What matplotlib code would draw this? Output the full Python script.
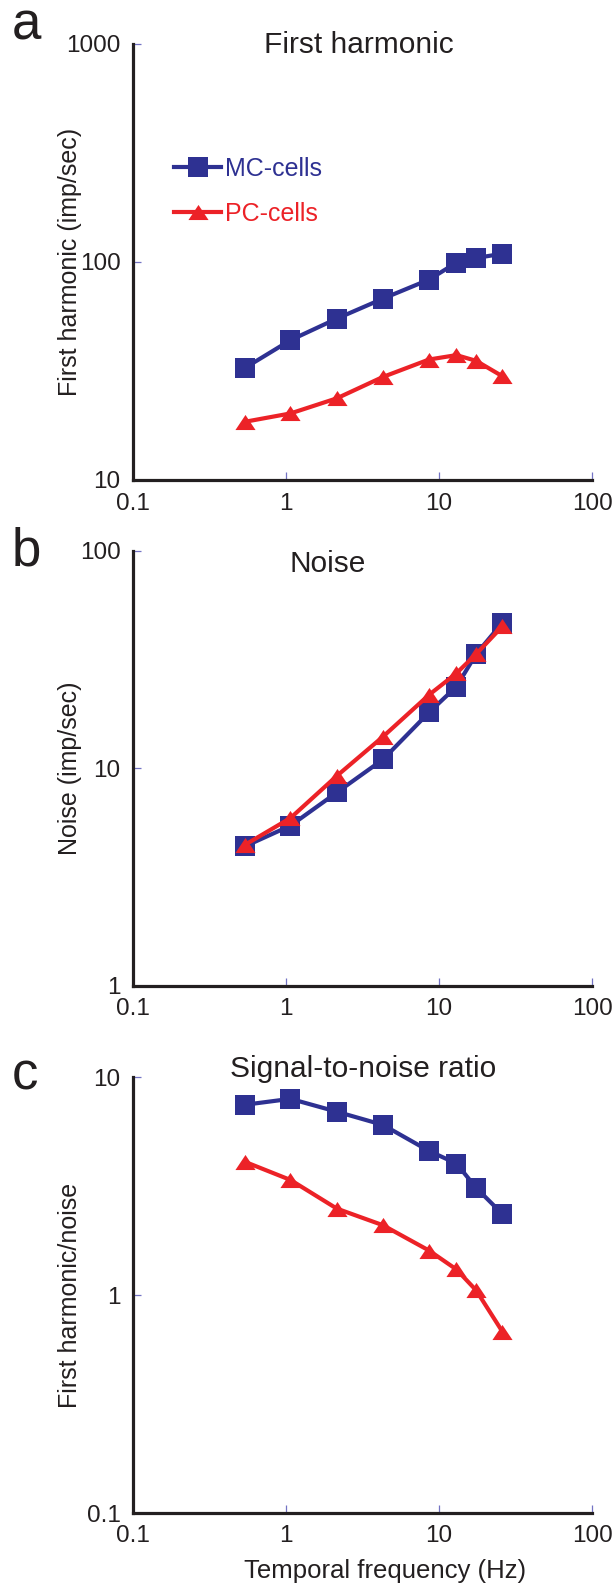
import matplotlib
matplotlib.use("Agg")
import matplotlib.pyplot as plt
from matplotlib.ticker import FixedLocator, FixedFormatter, NullLocator

plt.rcParams['font.family'] = ['Liberation Sans', 'DejaVu Sans']

# ---------------- data ----------------
freq = [0.54, 1.07, 2.15, 4.3, 8.6, 13.0, 17.5, 26.0]

mc_harmonic = [32.7, 43.8, 55.0, 67.9, 83.0, 99.3, 104.3, 109.2]
pc_harmonic = [18.5, 20.2, 23.7, 29.7, 35.7, 37.4, 35.2, 29.9]

mc_noise = [4.39, 5.46, 7.76, 11.0, 18.1, 23.8, 33.6, 46.9]
pc_noise = [4.46, 5.92, 9.25, 14.0, 21.8, 27.4, 33.6, 45.1]

mc_snr = [7.46, 7.94, 6.93, 6.03, 4.58, 4.01, 3.10, 2.35]
pc_snr = [4.08, 3.37, 2.49, 2.09, 1.60, 1.31, 1.05, 0.678]

series_labels = ["MC-cells", "PC-cells"]
panel_letters = ["a", "b", "c"]
panel_titles = ["First harmonic", "Noise", "Signal-to-noise ratio"]
y_labels = ["First harmonic (imp/sec)", "Noise (imp/sec)", "First harmonic/noise"]
x_label = "Temporal frequency (Hz)"

x_ticks = [0.1, 1, 10, 100]
x_ticklabels = ["0.1", "1", "10", "100"]
y_ticks = [[10, 100, 1000], [1, 10, 100], [0.1, 1, 10]]
y_ticklabels = [["10", "100", "1000"], ["1", "10", "100"], ["0.1", "1", "10"]]

# ---------------- style ----------------
BLUE = "#2e3192"
RED = "#ec2227"
BLACK = "#231f20"
TICK = "#7373c4"

W, H = 613, 1585
fig = plt.figure(figsize=(W / 100, H / 100), dpi=100)

left_px, right_px = 133, 592
panels_px = [(44, 480), (551, 986), (1077, 1513)]

tri = [(-1, -0.75), (1, -0.75), (0, 0.75), (-1, -0.75)]

title_pos = [(0.492, 0.979), (0.425, 0.952), (0.502, 1.0)]
letter_base = [40, 565, 1089]

series_sets = [(mc_harmonic, pc_harmonic), (mc_noise, pc_noise), (mc_snr, pc_snr)]

for i, (top, bot) in enumerate(panels_px):
    ax = fig.add_axes([left_px / W, 1 - bot / H, (right_px - left_px) / W, (bot - top) / H])
    ax.set_xscale("log")
    ax.set_yscale("log")
    mc, pc = series_sets[i]
    l1, = ax.plot(freq, mc, color=BLUE, lw=3.0, marker="s", markersize=14,
                  markeredgewidth=0, label=series_labels[0], clip_on=False)
    l2, = ax.plot(freq, pc, color=RED, lw=3.0, marker=tri, markersize=14.5,
                  markeredgewidth=0, label=series_labels[1], clip_on=False)
    ax.set_xlim(x_ticks[0], x_ticks[-1])
    ax.set_ylim(y_ticks[i][0], y_ticks[i][-1])
    for s in ("top", "right"):
        ax.spines[s].set_visible(False)
    for s in ("left", "bottom"):
        ax.spines[s].set_linewidth(2.3)
        ax.spines[s].set_color(BLACK)
    ax.xaxis.set_major_locator(FixedLocator(x_ticks))
    ax.xaxis.set_major_formatter(FixedFormatter(x_ticklabels))
    ax.yaxis.set_major_locator(FixedLocator(y_ticks[i]))
    ax.yaxis.set_major_formatter(FixedFormatter(y_ticklabels[i]))
    ax.xaxis.set_minor_locator(NullLocator())
    ax.yaxis.set_minor_locator(NullLocator())
    ax.tick_params(which="major", direction="in", length=6, width=0.9,
                   color=TICK, labelcolor=BLACK, labelsize=17.5)
    ax.tick_params(axis="x", pad=9)
    ax.tick_params(axis="y", pad=9)

    ax.set_ylabel(y_labels[i], fontsize=18, color=BLACK)
    ax.yaxis.label.set_va("center")
    ax.yaxis.set_label_coords(-0.138, 0.5)

    tx, ty = title_pos[i]
    ax.text(tx, ty, panel_titles[i], transform=ax.transAxes, ha="center",
            va="baseline", fontsize=21.5, color=BLACK)

    fig.text(12 / W, 1 - letter_base[i] / H, panel_letters[i], ha="left",
             va="baseline", fontsize=38, color=BLACK)

    if i == 0:
        ax.legend(handles=[l1, l2], loc="upper left",
                  bbox_to_anchor=(0.089, 0.741), frameon=False, fontsize=18,
                  labelcolor="linecolor", numpoints=1, handlelength=1.9,
                  handletextpad=0.15, labelspacing=0.85, borderpad=0,
                  borderaxespad=0)
    if i == 2:
        ax.set_xlabel(x_label, fontsize=18.5, color=BLACK)
        ax.xaxis.label.set_va("center")
        ax.xaxis.set_label_coords(0.549, -0.133)

fig.savefig("out.png", dpi=100)
